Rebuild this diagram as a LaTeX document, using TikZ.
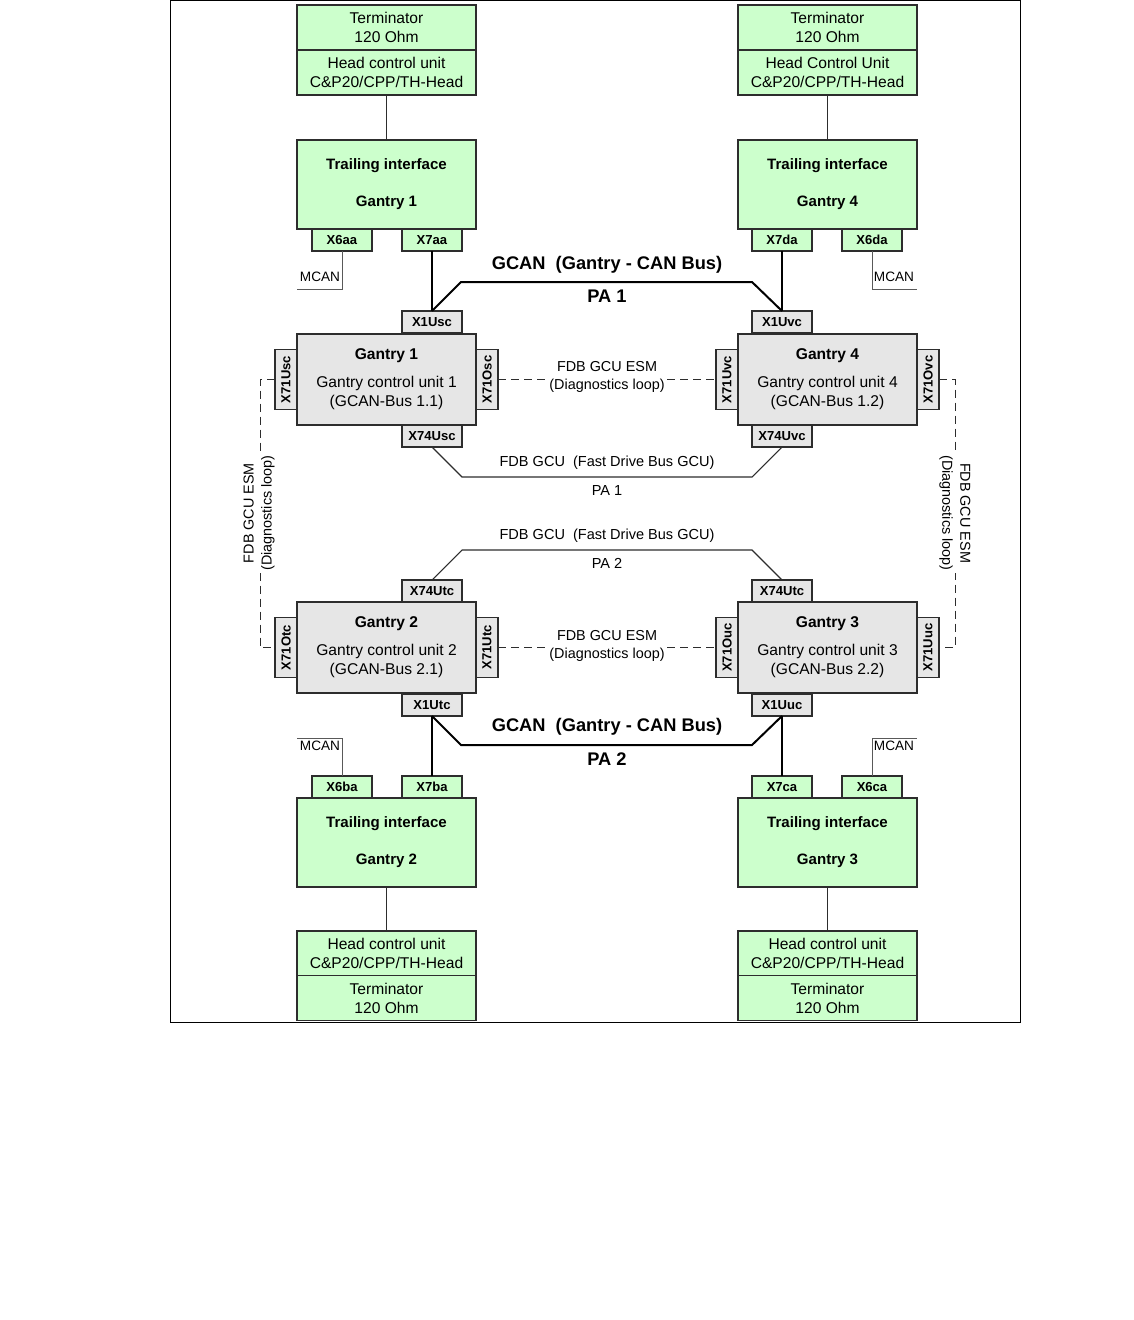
\documentclass[tikz,border=0pt]{standalone}
\usepackage{fontspec}
\setmainfont{Liberation Sans}
\definecolor{gfill}{RGB}{204,255,204}
\definecolor{kfill}{RGB}{230,230,230}
\definecolor{edge}{RGB}{45,45,45}
\begin{document}
\begin{tikzpicture}[x=0.75pt,y=-0.75pt,
  every node/.style={inner sep=0pt,outer sep=0pt},
  sec/.style={draw=edge,fill=gfill,line width=0.8pt,align=center,minimum width=134.25pt,minimum height=33.75pt,font=\fontsize{11.7}{14.25}\selectfont},
  trail/.style={draw=edge,fill=gfill,line width=0.8pt,align=center,minimum width=134.25pt,minimum height=66.75pt,font=\bfseries\fontsize{11.3}{27.75}\selectfont},
  gantry/.style={draw=edge,fill=kfill,line width=0.8pt,align=center,minimum width=134.25pt,minimum height=68.25pt,font=\fontsize{11.7}{14.25}\selectfont},
  gcon/.style={draw=edge,fill=gfill,line width=0.8pt,minimum width=45pt,minimum height=16.5pt,font=\bfseries\fontsize{9.8}{10}\selectfont},
  kcon/.style={draw=edge,fill=kfill,line width=0.8pt,minimum width=45pt,minimum height=16.5pt,font=\bfseries\fontsize{9.8}{10}\selectfont},
  vcon/.style={kcon,rotate=90},
  buslabel/.style={font=\bfseries\fontsize{13.7}{16}\selectfont},
  fdblabel/.style={font=\fontsize{10.9}{13}\selectfont},
  esm/.style={fill=white,inner sep=1.5pt,align=center,font=\fontsize{10.8}{13.5}\selectfont},
  mcan/.style={font=\fontsize{10.2}{12}\selectfont},
  mcanline/.style={draw=black!65,line width=0.6pt},
  link/.style={draw=edge,line width=0.8pt},
  gcan/.style={draw=black,line width=1.5pt,line join=miter},
  fdb/.style={draw=edge,line width=0.8pt},
  dl/.style={draw=edge,line width=0.6pt,dash pattern=on 6pt off 3.75pt}
]
\useasboundingbox (0,0) rectangle (1134,1320);
\draw[line width=0.75pt] (170.5,0.5) rectangle (1020,1022);

% ---------- top left ----------
\node[sec] (t1term) at (386.5,27.5) {Terminator\\120 Ohm};
\node[sec] (t1head) at (386.5,72.5) {Head control unit\\C\&P20/CPP/TH-Head};
\node[trail] (tr1) at (386.5,184.5) {Trailing interface\\Gantry 1};
\node[gcon] (x6aa) at (342,240) {X6aa};
\node[gcon] (x7aa) at (432,240) {X7aa};
\draw[link] (t1head.south) -- (tr1.north);
\coordinate (m1) at (297,289);
\draw[mcanline] (x6aa.south) |- (m1);
\node[mcan] (mcan1) at (320,277) {MCAN};

% ---------- top right ----------
\node[sec] (t4term) at (827.5,27.5) {Terminator\\120 Ohm};
\node[sec] (t4head) at (827.5,72.5) {Head Control Unit\\C\&P20/CPP/TH-Head};
\node[trail] (tr4) at (827.5,184.5) {Trailing interface\\Gantry 4};
\node[gcon] (x7da) at (782,240) {X7da};
\node[gcon] (x6da) at (872,240) {X6da};
\draw[link] (t4head.south) -- (tr4.north);
\coordinate (m4) at (917,289);
\draw[mcanline] (x6da.south) |- (m4);
\node[mcan] (mcan4) at (894,277) {MCAN};

% ---------- gantry 1 ----------
\node[kcon] (x1usc) at (432,322) {X1Usc};
\node[gantry] (g1) at (386.5,379.5) {\textbf{Gantry 1}\\[6.75pt]Gantry control unit 1\\(GCAN-Bus 1.1)};
\node[vcon] (x71usc) at (286,379.5) {X71Usc};
\node[vcon] (x71osc) at (487,379.5) {X71Osc};
\node[kcon] (x74usc) at (432,436) {X74Usc};

% ---------- gantry 4 ----------
\node[kcon] (x1uvc) at (782,322) {X1Uvc};
\node[gantry] (g4) at (827.5,379.5) {\textbf{Gantry 4}\\[6.75pt]Gantry control unit 4\\(GCAN-Bus 1.2)};
\node[vcon] (x71uvc) at (727,379.5) {X71Uvc};
\node[vcon] (x71ovc) at (928,379.5) {X71Ovc};
\node[kcon] (x74uvc) at (782,436) {X74Uvc};

% ---------- gantry 2 ----------
\node[kcon] (x74utc2) at (432,591) {X74Utc};
\node[gantry] (g2) at (386.5,647.5) {\textbf{Gantry 2}\\[6.75pt]Gantry control unit 2\\(GCAN-Bus 2.1)};
\node[vcon] (x71otc) at (286,647.5) {X71Otc};
\node[vcon] (x71utc) at (487,647.5) {X71Utc};
\node[kcon] (x1utc) at (432,705) {X1Utc};

% ---------- gantry 3 ----------
\node[kcon] (x74utc3) at (782,591) {X74Utc};
\node[gantry] (g3) at (827.5,647.5) {\textbf{Gantry 3}\\[6.75pt]Gantry control unit 3\\(GCAN-Bus 2.2)};
\node[vcon] (x71ouc) at (727,647.5) {X71Ouc};
\node[vcon] (x71uuc) at (928,647.5) {X71Uuc};
\node[kcon] (x1uuc) at (782,705) {X1Uuc};

% ---------- bottom left ----------
\node[gcon] (x6ba) at (342,787) {X6ba};
\node[gcon] (x7ba) at (432,787) {X7ba};
\node[trail] (tr2) at (386.5,842.5) {Trailing interface\\Gantry 2};
\node[sec] (b2head) at (386.5,953.5) {Head control unit\\C\&P20/CPP/TH-Head};
\node[sec] (b2term) at (386.5,998) {Terminator\\120 Ohm};
\draw[link] (tr2.south) -- (b2head.north);
\coordinate (m2) at (297,738);
\draw[mcanline] (x6ba.north) |- (m2);
\node[mcan] (mcan2) at (320,746) {MCAN};

% ---------- bottom right ----------
\node[gcon] (x7ca) at (782,787) {X7ca};
\node[gcon] (x6ca) at (872,787) {X6ca};
\node[trail] (tr3) at (827.5,842.5) {Trailing interface\\Gantry 3};
\node[sec] (b3head) at (827.5,953.5) {Head control unit\\C\&P20/CPP/TH-Head};
\node[sec] (b3term) at (827.5,998) {Terminator\\120 Ohm};
\draw[link] (tr3.south) -- (b3head.north);
\coordinate (m3) at (917,738);
\draw[mcanline] (x6ca.north) |- (m3);
\node[mcan] (mcan3) at (894,746) {MCAN};

% ---------- GCAN buses ----------
\coordinate (ga1) at (461,282); \coordinate (ga2) at (752,282);
\draw[gcan] (x7aa.south) -- (x1usc.north);
\draw[gcan] (x7da.south) -- (x1uvc.north);
\draw[gcan] (x1usc.north) -- (ga1) -- (ga2) -- (x1uvc.north);
\node[buslabel] (gcanl1) at (607,265) {GCAN\ \ (Gantry - CAN Bus)};
\node[buslabel] (pa1) at (607,296) {PA 1};

\coordinate (gb1) at (461,745); \coordinate (gb2) at (752,745);
\draw[gcan] (x1utc.south) -- (x7ba.north);
\draw[gcan] (x1uuc.south) -- (x7ca.north);
\draw[gcan] (x1utc.south) -- (gb1) -- (gb2) -- (x1uuc.south);
\node[buslabel] (gcanl2) at (607,727) {GCAN\ \ (Gantry - CAN Bus)};
\node[buslabel] (pa2) at (607,759) {PA 2};

% ---------- FDB buses ----------
\coordinate (fa1) at (462,477); \coordinate (fa2) at (752,477);
\draw[fdb] (x74usc.south) -- (fa1) -- (fa2) -- (x74uvc.south);
\node[fdblabel] (fdbl1) at (607,463) {FDB GCU\ \ (Fast Drive Bus GCU)};
\node[fdblabel] (fpa1) at (607,490) {PA 1};

\coordinate (fb1) at (462,550); \coordinate (fb2) at (752,550);
\draw[fdb] (x74utc2.north) -- (fb1) -- (fb2) -- (x74utc3.north);
\node[fdblabel] (fdbl2) at (607,536) {FDB GCU\ \ (Fast Drive Bus GCU)};
\node[fdblabel] (fpa2) at (607,563) {PA 2};

% ---------- diagnostics loops ----------
\draw[dl] (x71osc.south) -- (x71uvc.north);
\node[esm] (esm1) at (607,377) {FDB GCU ESM\\(Diagnostics loop)};
\draw[dl] (x71utc.south) -- (x71ouc.north);
\node[esm] (esm2) at (607,646) {FDB GCU ESM\\(Diagnostics loop)};

\coordinate (la) at (260,379.5); \coordinate (lb) at (260,647.5);
\draw[dl] (x71usc.north) -- (la) -- (lb) -- (x71otc.north);
\node[esm,rotate=90] (esmL) at (259,513) {FDB GCU ESM\\(Diagnostics loop)};

\coordinate (ra) at (955,379.5); \coordinate (rb) at (955,647.5);
\draw[dl] (x71ovc.south) -- (ra) -- (rb) -- (x71uuc.south);
\node[esm,rotate=-90] (esmR) at (955,513) {FDB GCU ESM\\(Diagnostics loop)};
\end{tikzpicture}
\end{document}
